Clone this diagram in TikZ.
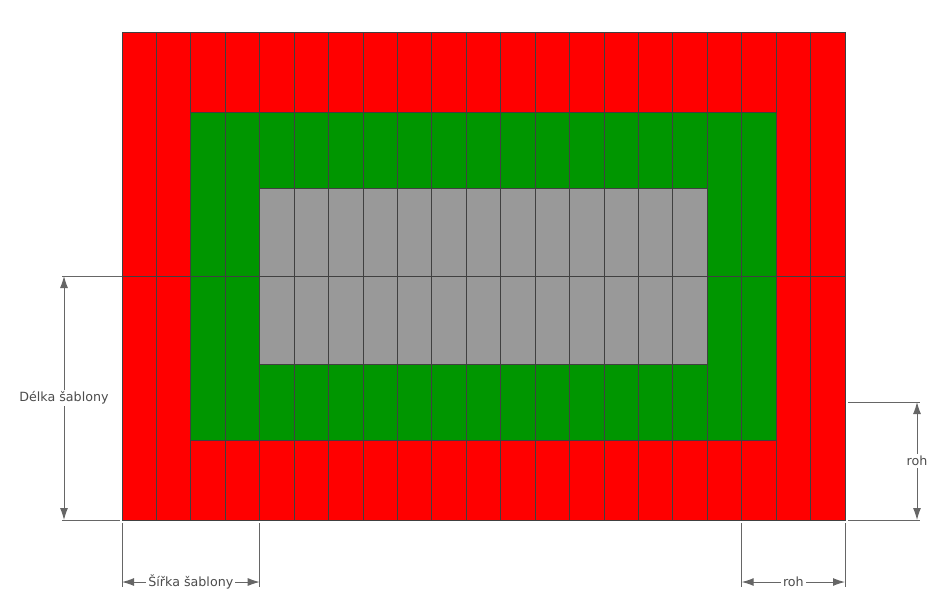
\documentclass[tikz,border=0pt]{standalone}
\usepackage{fontspec}
\setmainfont{DejaVu Sans}
\usetikzlibrary{arrows.meta}
\definecolor{okraj}{RGB}{255,0,0}
\definecolor{zelena}{RGB}{0,150,0}
\definecolor{seda}{RGB}{153,153,153}
\begin{document}
\begin{tikzpicture}[x=0.75pt, y=-0.75pt,
    cell/.style={draw=black!75, line width=0.75pt},
    dimline/.style={draw=black!60, line width=0.75pt},
    dimarrow/.style={dimline, {Latex[length=9pt,width=6pt]}-{Latex[length=9pt,width=6pt]}},
    dimlabel/.style={fill=white, inner sep=1.5pt, text=black!70, font=\fontsize{9.5}{11}\selectfont}
]
    \useasboundingbox (0,0) rectangle (936,612);

    % Plochy
    \fill[okraj] (122,32) rectangle (845,520);
    \fill[zelena] (190.9,112) rectangle (776.1,440);
    \fill[seda] (259.7,188) rectangle (707.3,364);

    % Sloupce
    \foreach \i in {1,...,20}
        \draw[cell] ({122+\i*723/21},32) -- ({122+\i*723/21},520);
    \draw[cell] (122,276) -- (845,276);
    \draw[cell] (259.7,188) rectangle (707.3,364);
    \draw[cell] (190.9,112) rectangle (776.1,440);
    \draw[cell] (122,32) rectangle (845,520);

    % Delka sablony
    \draw[dimline] (62,276) -- (122,276);
    \draw[dimline] (62,520) -- (120,520);
    \coordinate (delka a) at (64,276);
    \coordinate (delka b) at (64,520);
    \draw[dimarrow] (delka a) -- node[dimlabel] (delka) {Délka šablony} (delka b);

    % Sirka sablony
    \draw[dimline] (122,523) -- (122,587);
    \draw[dimline] (259.7,523) -- (259.7,587);
    \coordinate (sirka a) at (122,582);
    \coordinate (sirka b) at (259.7,582);
    \draw[dimarrow] (sirka a) -- node[dimlabel] (sirka) {Šířka šablony} (sirka b);

    % Roh dole
    \draw[dimline] (741.7,523) -- (741.7,587);
    \draw[dimline] (845,523) -- (845,587);
    \coordinate (rohx a) at (741.7,582);
    \coordinate (rohx b) at (845,582);
    \draw[dimarrow] (rohx a) -- node[dimlabel] (rohx) {roh} (rohx b);

    % Roh vpravo
    \draw[dimline] (848,402) -- (920,402);
    \draw[dimline] (848,520) -- (920,520);
    \coordinate (rohy a) at (917,402);
    \coordinate (rohy b) at (917,520);
    \draw[dimarrow] (rohy a) -- node[dimlabel] (rohy) {roh} (rohy b);
\end{tikzpicture}
\end{document}
